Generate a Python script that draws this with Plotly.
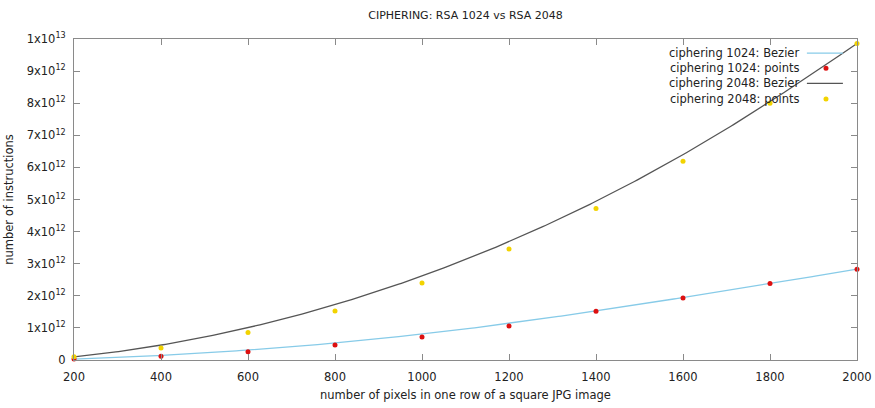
import numpy as np
import plotly.graph_objects as go
from math import comb

# ---- data ----
pixels = [200, 400, 600, 800, 1000, 1200, 1400, 1600, 1800, 2000]
ciph_1024 = [0.03e12, 0.12e12, 0.26e12, 0.47e12, 0.72e12, 1.06e12, 1.52e12, 1.93e12, 2.38e12, 2.83e12]
ciph_2048 = [0.10e12, 0.37e12, 0.86e12, 1.53e12, 2.40e12, 3.46e12, 4.72e12, 6.19e12, 8.00e12, 9.86e12]
x_ticks = [200, 400, 600, 800, 1000, 1200, 1400, 1600, 1800, 2000]
y_ticks = [0, 1e12, 2e12, 3e12, 4e12, 5e12, 6e12, 7e12, 8e12, 9e12, 1e13]
y_tick_labels = ["0"] + [f"{i}x10<sup>12</sup>" for i in range(1, 10)] + ["1x10<sup>13</sup>"]
legend_names = ["ciphering 1024: Bezier", "ciphering 1024: points",
                "ciphering 2048: Bezier", "ciphering 2048: points"]

FONT = "DejaVu Sans"
C_BLUE = "#87cbe8"
C_RED = "#dd1010"
C_GRAY = "#555555"
C_YEL = "#f2d300"
C_AX = "#8a8a8a"


def bezier(xs, ys, n=300):
    xs = np.asarray(xs, float)
    ys = np.asarray(ys, float)
    m = len(xs) - 1
    t = np.linspace(0, 1, n)
    bx = np.zeros(n)
    by = np.zeros(n)
    for i in range(m + 1):
        b = comb(m, i) * t**i * (1 - t)**(m - i)
        bx += b * xs[i]
        by += b * ys[i]
    return bx, by


bx1, by1 = bezier(pixels, ciph_1024)
bx2, by2 = bezier(pixels, ciph_2048)

fig = go.Figure()
fig.add_trace(go.Scatter(x=bx1, y=by1, mode="lines", line=dict(color=C_BLUE, width=1.3),
                         name=legend_names[0], showlegend=False, hoverinfo="skip", cliponaxis=False))
fig.add_trace(go.Scatter(x=pixels, y=ciph_1024, mode="markers", cliponaxis=False,
                         marker=dict(color=C_RED, size=5), name=legend_names[1], showlegend=False))
fig.add_trace(go.Scatter(x=bx2, y=by2, mode="lines", line=dict(color=C_GRAY, width=1.3),
                         name=legend_names[2], showlegend=False, hoverinfo="skip", cliponaxis=False))
fig.add_trace(go.Scatter(x=pixels, y=ciph_2048, mode="markers", cliponaxis=False,
                         marker=dict(color=C_YEL, size=5), name=legend_names[3], showlegend=False))

# ---- manual legend (gnuplot style: text right-aligned, sample on right) ----
rows_y = [0.956, 0.909, 0.862, 0.813]
txt_x = 0.9285
samp_x0, samp_x1 = 0.936, 0.982
samp_xc = 0.9604
styles = [("line", C_BLUE), ("point", C_RED), ("line", C_GRAY), ("point", C_YEL)]
for name, yy, (kind, col) in zip(legend_names, rows_y, styles):
    fig.add_annotation(x=txt_x, y=yy, xref="paper", yref="paper", text=name, showarrow=False,
                       xanchor="right", yanchor="middle", font=dict(family=FONT, size=11.5, color="#222"))
    if kind == "line":
        fig.add_shape(type="line", xref="paper", yref="paper", x0=samp_x0, x1=samp_x1, y0=yy, y1=yy,
                      line=dict(color=col, width=1.3))
    else:
        dx, dy = 2.5 / 783, 2.5 / 321
        fig.add_shape(type="circle", xref="paper", yref="paper", x0=samp_xc - dx, x1=samp_xc + dx,
                      y0=yy - dy, y1=yy + dy, fillcolor=col, line=dict(width=0))

axis_common = dict(showline=True, linecolor=C_AX, linewidth=1, mirror="allticks", ticks="inside",
                   ticklen=6, tickcolor=C_AX, showgrid=False, zeroline=False, automargin=False,
                   tickfont=dict(family=FONT, size=11.5, color="#222"))

fig.update_layout(
    width=875, height=408,
    margin=dict(l=74, r=18, t=39, b=48),
    paper_bgcolor="white", plot_bgcolor="white",
    title=dict(text="CIPHERING: RSA 1024 vs RSA 2048", x=(74 + 857) / 2 / 875, xanchor="center",
               y=1 - 15 / 408, yanchor="middle", font=dict(family=FONT, size=11, color="#222")),
    xaxis=dict(range=[200, 2000], tickvals=x_ticks, ticktext=[str(v) for v in x_ticks],
               title=dict(text="number of pixels in one row of a square JPG image", standoff=8,
                          font=dict(family=FONT, size=11.5, color="#222")),
               ticklabelstandoff=6, **axis_common),
    yaxis=dict(range=[0, 1e13], tickvals=y_ticks, ticktext=y_tick_labels,
               title=dict(text="number of instructions", standoff=10,
                          font=dict(family=FONT, size=11.5, color="#222")),
               ticklabelstandoff=5, **axis_common),
    showlegend=False,
)

fig.write_html("out.html")
